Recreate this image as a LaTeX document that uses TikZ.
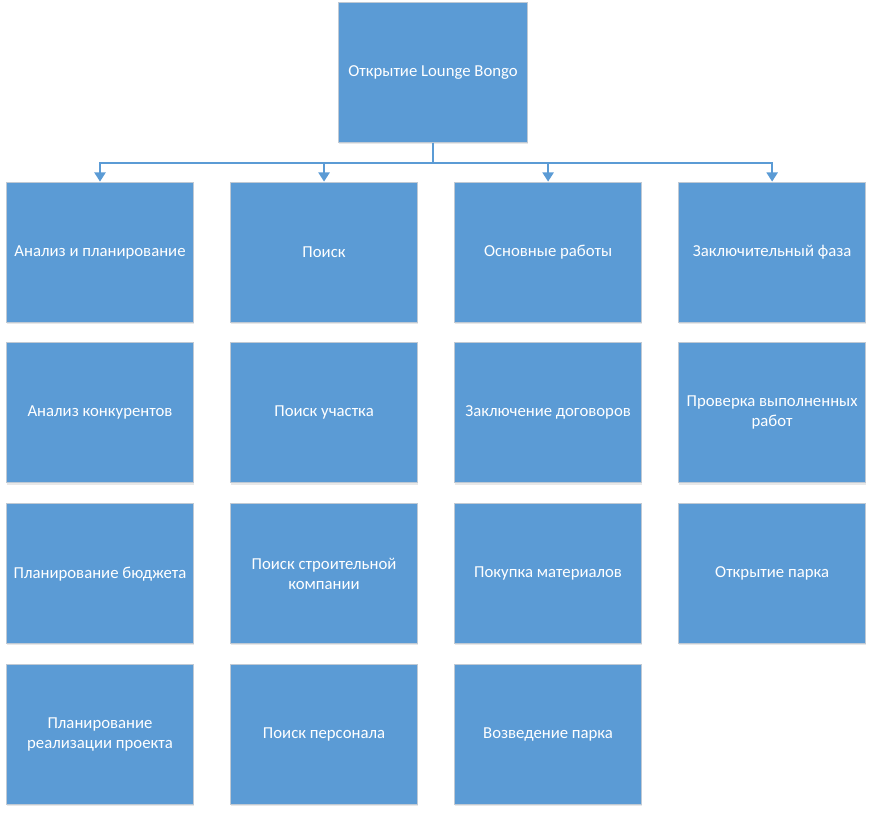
\documentclass[tikz,border=0pt]{standalone}
\usepackage{fontspec}
\setmainfont{Carlito}
\usepackage{tikz}
\usetikzlibrary{positioning,arrows.meta,shadows}
\definecolor{boxblue}{HTML}{5B9BD5}
\definecolor{boxline}{HTML}{BFC9D4}

\begin{document}
\begin{tikzpicture}[node distance=0.5cm and 0.9cm,
  main/.style = {draw=boxline, line width=0.6pt, fill=boxblue, text=white,
    minimum width=4.68cm, minimum height=3.5cm, inner sep=2pt, align=center,
    font=\fontsize{11.9}{14.2}\selectfont,
    drop shadow={opacity=0.18, shadow xshift=0.3pt, shadow yshift=-1.2pt}},
  link/.style = {draw=boxblue, line width=1.1pt, -{Triangle[width=8pt,length=6.5pt]}}]
\useasboundingbox (0,0) rectangle (21.825,-20.375);
\node[main, minimum width=4.73cm] (0) at (10.825,-1.8125) {Открытие Lounge Bongo};
% first row
\node[main] (1) at (2.5,-6.3) {Анализ и планирование};
\node[main] (2)[right=of 1] {Поиск};
\node[main] (3)[right=of 2] {Основные работы};
\node[main] (4)[right=of 3] {Заключительный фаза};
% column 1
\node[main] (11)[below=of 1] {Анализ конкурентов};
\node[main] (12)[below=of 11] {Планирование бюджета};
\node[main] (13)[below=of 12] {Планирование\\реализации проекта};
% column 2
\node[main] (21)[below=of 2] {Поиск участка};
\node[main] (22)[below=of 21] {Поиск строительной\\компании};
\node[main] (23)[below=of 22] {Поиск персонала};
% column 3
\node[main] (31)[below=of 3] {Заключение договоров};
\node[main] (32)[below=of 31] {Покупка материалов};
\node[main] (33)[below=of 32] {Возведение парка};
% column 4
\node[main] (41)[below=of 4] {Проверка выполненных\\работ};
\node[main] (42)[below=of 41] {Открытие парка};
\draw[link] (0.south) -- ++(0,-0.5) -| (1.north);
\draw[link] (0.south) -- ++(0,-0.5) -| (2.north);
\draw[link] (0.south) -- ++(0,-0.5) -| (3.north);
\draw[link] (0.south) -- ++(0,-0.5) -| (4.north);
\end{tikzpicture}
\end{document}
